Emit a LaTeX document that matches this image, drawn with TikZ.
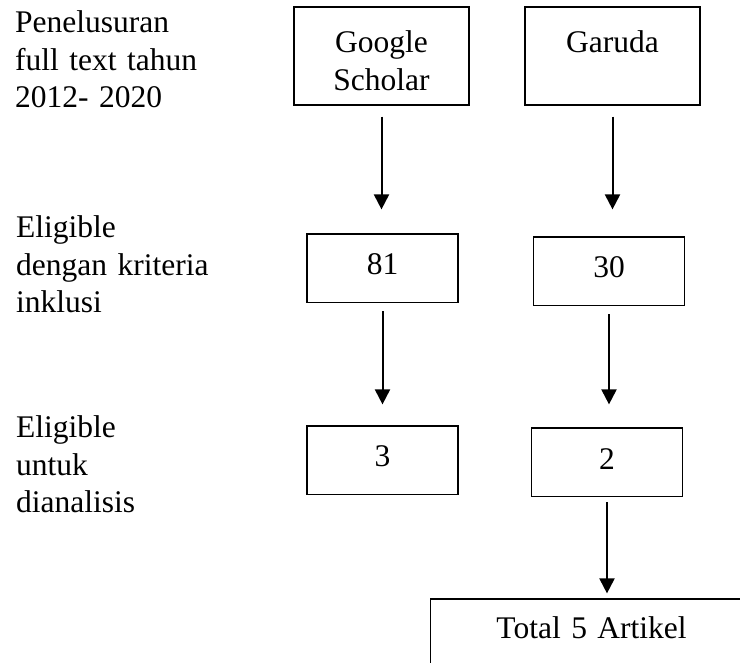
\documentclass[tikz,border=0pt]{standalone}
\usepackage{fontspec}
\setmainfont{Liberation Serif}
\usepackage{tikz}
\usetikzlibrary{arrows.meta, positioning}
\tikzstyle{lbl} = [inner sep=0pt, text width=240pt, align=left, anchor=base west]
\tikzstyle{topbox} = [draw=black, line width=1.2pt, inner sep=0pt, text width=175pt, align=center, text height=46pt, text depth=52pt, anchor=base]
\tikzstyle{numbox} = [draw=black, line width=1.2pt, inner sep=0pt, minimum width=151pt, text height=41pt, text depth=27.5pt, anchor=base]
\tikzstyle{arrow} = [line width=2pt, -{Triangle[length=15pt,width=15pt]}]

\begin{document}
\begin{tikzpicture}[x=1pt, y=-1pt, font=\fontsize{31.5}{37.5}\selectfont]
    \useasboundingbox (0,0) rectangle (740,663);
    \clip (0,0) rectangle (740,663);
    % row labels
    \node [lbl] (row1) at (15, 33) {Penelusuran\\full text tahun\\2012- 2020};
    \node [lbl] (row2) at (16, 238) {Eligible\\dengan kriteria\\inklusi};
    \node [lbl] (row3) at (16, 438) {Eligible\\untuk\\dianalisis};
    % sources
    \node [topbox] (gs) at (381.5, 53) {Google\\Scholar};
    \node [topbox] (gar) at (612.5, 53) {Garuda};
    % counts
    \node [numbox] (b81) at (382.5, 275) {81};
    \node [numbox] (b30) at (609, 278) {30};
    \node [numbox] (b3) at (382.5, 467) {3};
    \node [numbox] (b2) at (607, 469) {2};
    % total (runs off the page)
    \node [draw=black, line width=1.2pt, inner sep=0pt, text width=322pt, align=center, text height=39pt, text depth=80pt, anchor=base west] (total) at (430, 638) {Total 5 Artikel};
    % arrows
    \draw [arrow, shorten <=11pt, shorten >=24pt] (gs.south) -- (gs.south |- b81.north);
    \draw [arrow, shorten <=11pt, shorten >=27pt] (gar.south) -- (gar.south |- b30.north);
    \draw [arrow, shorten <=8pt, shorten >=21pt] (b81.south) -- (b81.south |- b3.north);
    \draw [arrow, shorten <=8pt, shorten >=23pt] (b30.south) -- (b30.south |- b2.north);
    \draw [arrow, shorten <=5pt, shorten >=5pt] (b2.south) -- (b2.south |- total.north);
\end{tikzpicture}
\end{document}
